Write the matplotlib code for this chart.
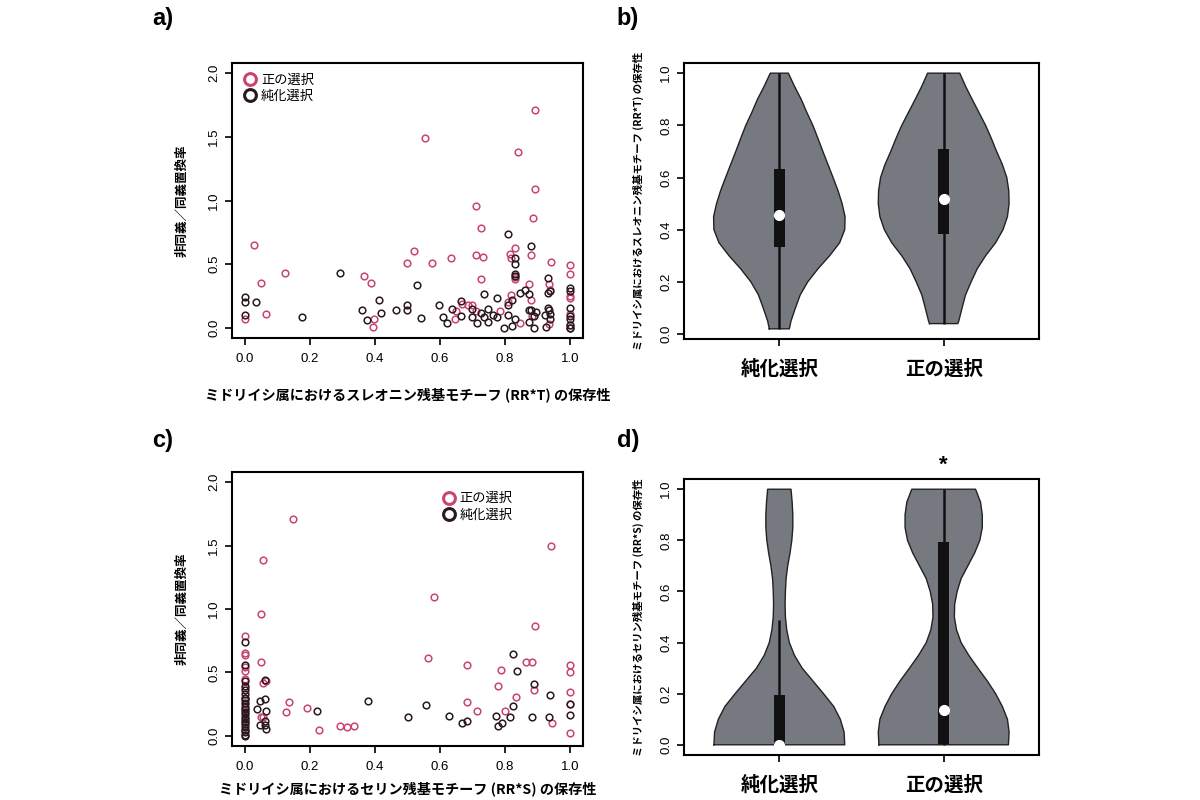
import numpy as np
from matplotlib import pyplot as plt

plt.rcParams['font.family'] = ['Liberation Sans', 'Noto Sans CJK JP', 'DejaVu Sans']
JP = ['Noto Sans CJK JP', 'DejaVu Sans']

pink = '#c9456f'
dark = '#2a1820'
violin_grey = '#76797f'

lab_pos = '正の選択'
lab_pur = '純化選択'
groups = [lab_pur, lab_pos]

# ---- panel a : threonine motif (RR*T) ----
a_pos_x = [0.0, 0.028, 0.049, 0.066, 0.124, 0.366, 0.388, 0.398, 0.393, 0.498, 0.519, 0.553,
           0.574, 0.635, 0.645, 0.65, 0.669, 0.686, 0.70, 0.71, 0.712, 0.712, 0.725, 0.731,
           0.725, 0.786, 0.808, 0.815, 0.817, 0.817, 0.831, 0.831, 0.831, 0.839, 0.847, 0.873,
           0.88, 0.88, 0.886, 0.891, 0.893, 0.883, 0.934, 0.941, 0.939, 0.934,
           1.0, 1.0, 1.0, 1.0, 1.0, 1.0]
a_pos_y = [0.066, 0.647, 0.349, 0.11, 0.427, 0.404, 0.351, 0.066, 0.005, 0.508, 0.60, 1.49,
           0.508, 0.55, 0.066, 0.136, 0.189, 0.183, 0.183, 0.954, 0.571, 0.136, 0.781, 0.553,
           0.383, 0.131, 0.204, 0.577, 0.55, 0.254, 0.626, 0.398, 0.38, 1.384, 0.037, 0.343,
           0.569, 0.215, 0.86, 1.712, 1.093, 0.092, 0.341, 0.519, 0.299, 0.031,
           0.495, 0.425, 0.249, 0.236, 0.105, 0.026]
a_pur_x = [0.0, 0.0, 0.0, 0.033, 0.176, 0.293, 0.359, 0.374, 0.412, 0.419, 0.465, 0.498, 0.498,
           0.528, 0.543, 0.597, 0.609, 0.622, 0.637, 0.664, 0.664, 0.698, 0.698, 0.713, 0.725,
           0.736, 0.748, 0.749, 0.736, 0.764, 0.776, 0.776, 0.797, 0.808, 0.81, 0.81, 0.822,
           0.822, 0.831, 0.831, 0.831, 0.83, 0.832, 0.847, 0.863, 0.873, 0.88, 0.873, 0.874,
           0.88, 0.888, 0.895, 0.888, 0.931, 0.933, 0.939, 0.931, 0.934, 0.924, 0.939, 0.927,
           0.937, 1.0, 1.0, 1.0, 1.0, 1.0, 1.0, 1.0, 1.0]
a_pur_y = [0.244, 0.204, 0.097, 0.202, 0.084, 0.432, 0.139, 0.06, 0.215, 0.118, 0.142, 0.183, 0.142,
           0.333, 0.079, 0.176, 0.084, 0.034, 0.147, 0.207, 0.094, 0.144, 0.087, 0.039, 0.113,
           0.262, 0.144, 0.045, 0.087, 0.10, 0.231, 0.087, 0.0, 0.097, 0.734, 0.183, 0.22,
           0.018, 0.55, 0.503, 0.425, 0.406, 0.073, 0.27, 0.294, 0.262, 0.642, 0.045, 0.139,
           0.139, 0.0, 0.126, 0.092, 0.393, 0.27, 0.288, 0.157, 0.139, 0.097, 0.066, 0.008,
           0.105, 0.309, 0.288, 0.155, 0.092, 0.066, 0.026, 0.0, 0.0]

# ---- panel c : serine motif (RR*S) ----
c_pos_x = [0.149, 0.054, 0.05, 0.0, 0.0, 0.0, 0.0, 0.0, 0.05, 0.054, 0.064, 0.05, 0.054,
           0.135, 0.127, 0.19, 0.228, 0.292, 0.314, 0.336, 0.562, 0.581, 0.683, 0.683, 0.715,
           0.779, 0.789, 0.801, 0.835, 0.865, 0.884, 0.89, 0.891, 0.942, 0.946,
           1.0, 1.0, 1.0, 1.0, 1.0,
           0.0, 0.0, 0.0, 0.0, 0.0, 0.0, 0.0]
c_pos_y = [1.713, 1.387, 0.96, 0.787, 0.657, 0.636, 0.54, 0.514, 0.579, 0.417, 0.43, 0.149, 0.149,
           0.269, 0.188, 0.219, 0.044, 0.076, 0.068, 0.076, 0.61, 1.095, 0.558, 0.266, 0.193,
           0.391, 0.519, 0.193, 0.308, 0.579, 0.579, 0.362, 0.866, 1.494, 0.102,
           0.558, 0.503, 0.347, 0.253, 0.026,
           0.45, 0.38, 0.30, 0.25, 0.20, 0.12, 0.05]
c_pur_x = [0.0, 0.0, 0.0, 0.0,
           0.0, 0.0, 0.0, 0.0, 0.0, 0.0, 0.0, 0.0, 0.0, 0.0, 0.0, 0.0, 0.0, 0.0, 0.0, 0.0, 0.0, 0.0,
           0.062, 0.062, 0.046, 0.036, 0.066, 0.047, 0.062, 0.066, 0.062, 0.221, 0.377, 0.503,
           0.557, 0.627, 0.668, 0.683, 0.772, 0.779, 0.791, 0.814, 0.825, 0.825, 0.836, 0.89,
           0.883, 0.934, 0.938, 1.0, 1.0]
c_pur_y = [0.74, 0.561, 0.435, 0.396,
           0.36, 0.33, 0.30, 0.28, 0.26, 0.23, 0.21, 0.19, 0.17, 0.15, 0.13, 0.11, 0.09, 0.07,
           0.05, 0.03, 0.01, 0.0,
           0.443, 0.292, 0.271, 0.209, 0.193, 0.089, 0.117, 0.052, 0.083, 0.196, 0.274, 0.151,
           0.24, 0.154, 0.104, 0.117, 0.156, 0.078, 0.099, 0.146, 0.232, 0.647, 0.511, 0.409,
           0.151, 0.149, 0.321, 0.253, 0.164]

# ---- violin profiles (half width) ----
b_pur_y = [0.02, 0.05, 0.10, 0.15, 0.20, 0.25, 0.30, 0.35, 0.40, 0.45, 0.50, 0.55, 0.60,
           0.65, 0.70, 0.75, 0.80, 0.85, 0.90, 0.95, 1.0]
b_pur_w = [0.061, 0.071, 0.098, 0.127, 0.173, 0.235, 0.306, 0.367, 0.398, 0.40, 0.382, 0.357,
           0.327, 0.296, 0.265, 0.235, 0.204, 0.167, 0.133, 0.092, 0.055]
b_pos_y = [0.04, 0.05, 0.10, 0.15, 0.20, 0.25, 0.30, 0.35, 0.40, 0.45, 0.50, 0.55, 0.60,
           0.65, 0.70, 0.75, 0.80, 0.85, 0.90, 0.95, 1.0]
b_pos_w = [0.086, 0.092, 0.112, 0.133, 0.167, 0.204, 0.255, 0.316, 0.361, 0.388, 0.398, 0.396,
           0.384, 0.357, 0.322, 0.29, 0.255, 0.214, 0.173, 0.133, 0.098]
b_box = {lab_pur: (0.02, 0.335, 0.458, 0.632, 1.0), lab_pos: (0.04, 0.382, 0.517, 0.71, 1.0)}

d_y = [0.0, 0.05, 0.10, 0.15, 0.20, 0.25, 0.30, 0.35, 0.40, 0.45, 0.50, 0.55, 0.60,
       0.65, 0.70, 0.75, 0.80, 0.85, 0.90, 0.95, 1.0]
d_pur_w = [0.398, 0.394, 0.371, 0.331, 0.269, 0.204, 0.139, 0.092, 0.061, 0.045, 0.037, 0.035,
           0.037, 0.041, 0.051, 0.065, 0.076, 0.082, 0.082, 0.078, 0.071]
d_pos_w = [0.394, 0.398, 0.388, 0.357, 0.316, 0.265, 0.208, 0.153, 0.106, 0.078, 0.065, 0.067,
           0.082, 0.106, 0.147, 0.188, 0.22, 0.235, 0.235, 0.224, 0.194]
d_box = {lab_pur: (0.0, 0.0, 0.0, 0.195, 0.49), lab_pos: (0.0, 0.0, 0.135, 0.795, 1.0)}

fig = plt.figure(figsize=(12, 8), dpi=100)


def px(l, t, r, b):
    return [l / 1200, 1 - b / 800, (r - l) / 1200, (b - t) / 800]


def style(ax):
    for s in ax.spines.values():
        s.set_linewidth(1.5)
    ax.tick_params(length=5, width=1.2, labelsize=9.5)
    ax.tick_params(axis='x', pad=6)
    for tl in ax.get_yticklabels():
        tl.set_rotation(90)
        tl.set_va('center')


def scatter_panel(ax, px_, py_, ux, uy, xlabel, legloc, xpad):
    ax.plot(px_, py_, 'o', ms=4.8, mfc='none', mec=pink, mew=1.1, ls='none')
    ax.plot(ux, uy, 'o', ms=4.8, mfc='none', mec=dark, mew=1.1, ls='none')
    ax.set_xlim(-0.04, 1.04)
    ax.set_ylim(-0.08, 2.08)
    ax.set_xticks([0, 0.2, 0.4, 0.6, 0.8, 1.0])
    ax.set_xticklabels(['0.0', '0.2', '0.4', '0.6', '0.8', '1.0'])
    ax.set_yticks([0, 0.5, 1.0, 1.5, 2.0])
    ax.set_yticklabels(['0.0', '0.5', '1.0', '1.5', '2.0'])
    style(ax)
    ax.set_xlabel(xlabel, family=JP, fontweight='bold', fontsize=10.2, labelpad=xpad)
    ax.set_ylabel('非同義／同義置換率', family=JP, fontweight='bold', fontsize=9, labelpad=14)
    h1, = ax.plot([], [], 'o', ms=8.5, mfc='none', mec=pink, mew=2.2)
    h2, = ax.plot([], [], 'o', ms=8.5, mfc='none', mec=dark, mew=2.2)
    ax.legend([h1, h2], [lab_pos, lab_pur], loc=legloc, frameon=False,
              prop={'family': JP, 'size': 9.5}, handletextpad=0.2, labelspacing=0.25,
              borderaxespad=0.4, handlelength=1.2)


def violin_panel(ax, profiles, boxes, ylim, ylabel):
    for i, g in enumerate(groups):
        pos = i + 1
        yy, ww = profiles[g]
        yy = np.array(yy)
        ww = np.array(ww)
        ax.fill_betweenx(yy, pos - ww, pos + ww, facecolor=violin_grey, edgecolor='none')
        outline_x = np.concatenate([pos - ww, (pos + ww)[::-1], [(pos - ww)[0]]])
        outline_y = np.concatenate([yy, yy[::-1], [yy[0]]])
        ax.plot(outline_x, outline_y, color='#222222', lw=1.0)
        lo, q1, med, q3, hi = boxes[g]
        ax.plot([pos, pos], [lo, hi], color='#111111', lw=1.8, solid_capstyle='butt')
        ax.bar(pos, q3 - q1, bottom=q1, width=0.065, color='#111111')
        ax.plot(pos, med, 'o', ms=7, mfc='white', mec='white', clip_on=False, zorder=5)
    ax.set_xlim(0.42, 2.58)
    ax.set_ylim(*ylim)
    ax.set_xticks([1, 2])
    ax.set_yticks([0, 0.2, 0.4, 0.6, 0.8, 1.0])
    ax.set_yticklabels(['0.0', '0.2', '0.4', '0.6', '0.8', '1.0'])
    style(ax)
    ax.set_xticklabels(groups, family=JP, fontweight='bold', fontsize=14)
    ax.tick_params(axis='x', pad=10)
    ax.set_ylabel(ylabel, family=JP, fontweight='bold', fontsize=7.5, labelpad=12)


ax_a = fig.add_axes(px(232, 63, 583, 338))
scatter_panel(ax_a, a_pos_x, a_pos_y, a_pur_x, a_pur_y,
              'ミドリイシ属におけるスレオニン残基モチーフ (RR*T) の保存性', 'upper left', 16)

ax_c = fig.add_axes(px(232, 472, 583, 746))
scatter_panel(ax_c, c_pos_x, c_pos_y, c_pur_x, c_pur_y,
              'ミドリイシ属におけるセリン残基モチーフ (RR*S) の保存性', (0.58, 0.8), 6)

ax_b = fig.add_axes(px(684, 63, 1039, 339))
violin_panel(ax_b, {lab_pur: (b_pur_y, b_pur_w), lab_pos: (b_pos_y, b_pos_w)}, b_box,
             (-0.019, 1.039), 'ミドリイシ属におけるスレオニン残基モチーフ (RR*T) の保存性')

ax_d = fig.add_axes(px(684, 479, 1039, 755))
violin_panel(ax_d, {lab_pur: (d_y, d_pur_w), lab_pos: (d_y, d_pos_w)}, d_box,
             (-0.04, 1.04), 'ミドリイシ属におけるセリン残基モチーフ (RR*S) の保存性')
ax_d.text(2, 1.095, '*', ha='center', va='center', fontsize=16, fontweight='bold')

for lab, x, y in [('a)', 163, 18), ('b)', 628, 18), ('c)', 163, 440), ('d)', 628, 440)]:
    fig.text(x / 1200, 1 - y / 800, lab, ha='center', va='center', fontsize=17, fontweight='bold')

fig.savefig('out.png', dpi=100)
